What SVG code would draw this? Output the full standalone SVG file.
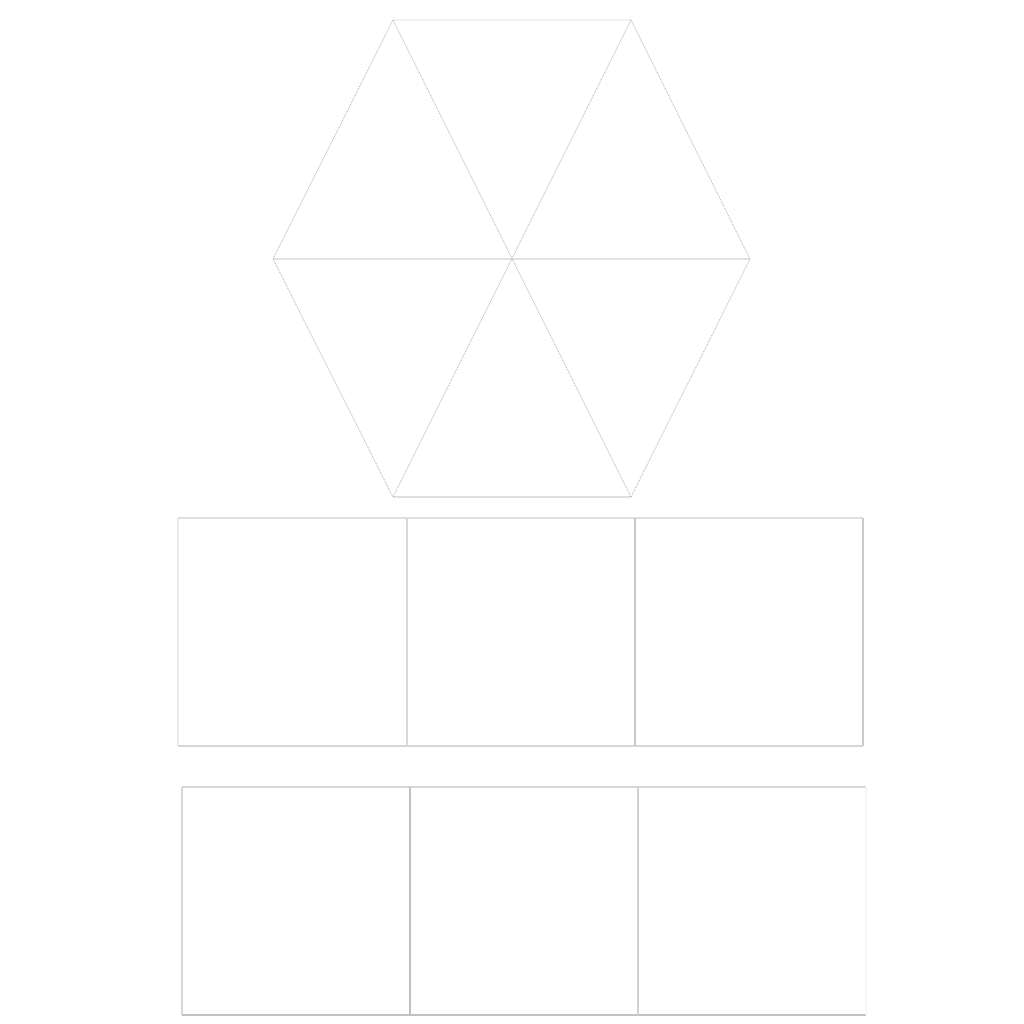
<svg xmlns="http://www.w3.org/2000/svg" width="1024" height="1024" viewBox="0 0 1024 1024">
<style>
.d{stroke:#a8a8a8;stroke-width:1;stroke-dasharray:1 1;fill:none}
.s{stroke-width:2;fill:none}
</style>
<rect width="1024" height="1024" fill="#fff"/>
<g id="hexagon">
<line x1="393" y1="20" x2="631" y2="20" stroke="#f2f2f2" class="s"/>
<line x1="273" y1="259" x2="750" y2="259" stroke="#e2e2e2" class="s"/>
<line x1="393" y1="497" x2="631" y2="497" stroke="#e0e0e0" class="s"/>
<path class="d" d="M393 20 L273 259 L393 497 M393 20 L631 497 M631 20 L393 497 M631 20 L750 259 L631 497"/>
</g>
<g id="row1">
<line x1="178" y1="518" x2="178" y2="746" stroke="#ebebeb" class="s"/>
<line x1="178" y1="518" x2="863" y2="518" stroke="#e0e0e0" class="s"/>
<line x1="178" y1="746" x2="863" y2="746" stroke="#d6d6d6" class="s"/>
<line x1="407" y1="518" x2="407" y2="746" stroke="#d8d8d8" class="s"/>
<line x1="635" y1="518" x2="635" y2="746" stroke="#c8c8c8" class="s"/>
<line x1="863" y1="518" x2="863" y2="746" stroke="#cccccc" class="s"/>
</g>
<g id="row2">
<line x1="182" y1="787" x2="182" y2="1015" stroke="#d6d6d6" class="s"/>
<line x1="182" y1="787" x2="866" y2="787" stroke="#d6d6d6" class="s"/>
<line x1="182" y1="1015" x2="866" y2="1015" stroke="#c2c2c2" class="s"/>
<line x1="410" y1="787" x2="410" y2="1015" stroke="#c0c0c0" class="s"/>
<line x1="638" y1="787" x2="638" y2="1015" stroke="#d0d0d0" class="s"/>
<line x1="866" y1="787" x2="866" y2="1015" stroke="#f5f5f5" class="s"/>
</g>
</svg>
